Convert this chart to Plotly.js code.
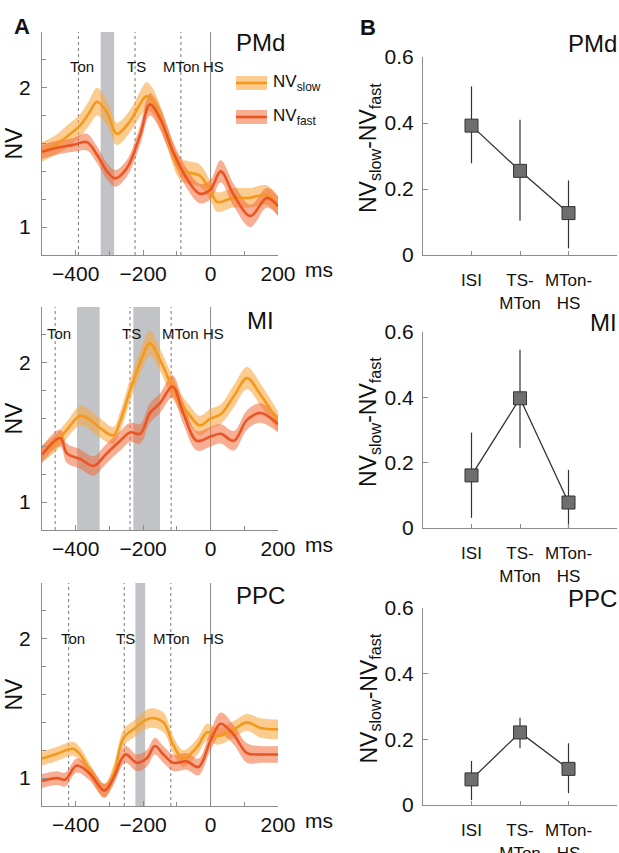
<!DOCTYPE html>
<html>
<head>
<meta charset="utf-8">
<script src="https://cdn.plot.ly/plotly-3.0.1.min.js"></script>
<style>
  html, body { margin: 0; padding: 0; background: #fff; }
  #plot { width: 619px; height: 853px; }
</style>
</head>
<body>
<div id="plot"></div>
<script>
// ---- Panel A : NV over time (ms, aligned to HS) ----
const pmdSlowT = [-500, -460, -426, -387, -360, -337, -307, -278, -239, -210, -190, -170, -130, -91, -61, -32, 0, 20, 67, 116, 166, 200];
const pmdSlow = [1.54, 1.59, 1.65, 1.73, 1.82, 1.90, 1.82, 1.67, 1.76, 1.88, 1.94, 1.90, 1.66, 1.42, 1.39, 1.37, 1.26, 1.18, 1.21, 1.21, 1.23, 1.15];
const pmdSlowSem = [0.07, 0.07, 0.08, 0.08, 0.09, 0.10, 0.09, 0.08, 0.08, 0.09, 0.10, 0.09, 0.08, 0.08, 0.08, 0.08, 0.07, 0.07, 0.07, 0.07, 0.07, 0.07];
const pmdFastT = [-500, -456, -407, -367, -337, -307, -283, -249, -209, -180, -150, -111, -71, -32, 0, 30, 69, 118, 167, 200];
const pmdFast = [1.54, 1.57, 1.59, 1.61, 1.52, 1.40, 1.35, 1.42, 1.66, 1.88, 1.78, 1.54, 1.35, 1.24, 1.27, 1.40, 1.23, 1.08, 1.21, 1.15];
const pmdFastSem = [0.05, 0.05, 0.05, 0.06, 0.06, 0.06, 0.06, 0.06, 0.07, 0.08, 0.08, 0.07, 0.07, 0.07, 0.07, 0.08, 0.08, 0.08, 0.07, 0.07];

const miSlowT = [-500, -461, -426, -387, -357, -327, -288, -268, -239, -209, -180, -150, -120, -91, -61, -32, 0, 30, 69, 108, 148, 200];
const miSlow = [1.35, 1.42, 1.52, 1.62, 1.59, 1.53, 1.48, 1.58, 1.80, 2.00, 2.14, 2.02, 1.86, 1.72, 1.62, 1.55, 1.60, 1.63, 1.76, 1.89, 1.77, 1.58];
const miSlowSem = [0.06, 0.06, 0.06, 0.07, 0.07, 0.07, 0.06, 0.07, 0.08, 0.08, 0.09, 0.08, 0.08, 0.07, 0.07, 0.07, 0.07, 0.07, 0.08, 0.08, 0.08, 0.07];
const miFastT = [-500, -446, -426, -387, -347, -308, -268, -239, -209, -180, -150, -113, -81, -41, 0, 30, 69, 108, 148, 200];
const miFast = [1.34, 1.46, 1.35, 1.31, 1.26, 1.35, 1.44, 1.50, 1.49, 1.64, 1.71, 1.83, 1.64, 1.44, 1.47, 1.49, 1.44, 1.59, 1.64, 1.56];
const miFastSem = [0.06, 0.06, 0.07, 0.07, 0.07, 0.07, 0.07, 0.07, 0.07, 0.07, 0.07, 0.08, 0.08, 0.07, 0.07, 0.07, 0.07, 0.07, 0.07, 0.06];

const ppcSlowT = [-500, -461, -407, -387, -357, -315, -288, -258, -229, -180, -140, -111, -81, -41, -10, 20, 69, 108, 148, 200];
const ppcSlow = [1.14, 1.17, 1.21, 1.17, 1.05, 0.91, 1.03, 1.29, 1.35, 1.43, 1.40, 1.24, 1.14, 1.22, 1.33, 1.30, 1.35, 1.40, 1.36, 1.35];
const ppcSlowSem = [0.05, 0.05, 0.05, 0.05, 0.05, 0.05, 0.06, 0.06, 0.06, 0.07, 0.07, 0.06, 0.06, 0.06, 0.06, 0.06, 0.06, 0.06, 0.07, 0.07];
const ppcFastT = [-500, -456, -431, -397, -357, -315, -288, -253, -219, -190, -165, -140, -111, -71, -36, 0, 30, 69, 108, 148, 200];
const ppcFast = [0.98, 1.00, 0.99, 1.09, 1.03, 0.91, 1.00, 1.17, 1.11, 1.14, 1.23, 1.17, 1.11, 1.12, 1.08, 1.27, 1.39, 1.31, 1.18, 1.17, 1.17];
const ppcFastSem = [0.05, 0.05, 0.05, 0.05, 0.05, 0.05, 0.05, 0.06, 0.06, 0.06, 0.06, 0.06, 0.06, 0.06, 0.06, 0.07, 0.08, 0.07, 0.07, 0.06, 0.06];

// event markers: [Ton, TS, MTon, HS]
const eventNames = ['Ton', 'TS', 'MTon', 'HS'];
const pmdEvents = [-392, -224, -88, 0];
const miEvents = [-461, -239, -117, 0];
const ppcEvents = [-421, -256, -118, 0];
// label x centres and label height (NV units)
const pmdLabelX = [-382, -219, -86, 10];
const miLabelX = [-451, -236, -90, 10];
const ppcLabelX = [-408, -252, -115, 9];
const labelY = [2.15, 2.21, 2.0];
// gray windows [start, end]
const pmdWindows = [[-326, -286]];
const miWindows = [[-396, -329], [-229, -150]];
const ppcWindows = [[-223, -194]];

// ---- Panel B : NVslow - NVfast per epoch ----
const epochs = ['ISI', 'TS-<br>MTon', 'MTon-<br>HS'];
const epochPos = [1, 2, 3];
const diffTicks = [0, 0.2, 0.4, 0.6];
const diffTickText = ['0', '0.2', '0.4', '0.6'];
const pmdDiff = [0.392, 0.255, 0.127];
const pmdHi = [0.511, 0.410, 0.226];
const pmdLo = [0.278, 0.104, 0.020];
const miDiff = [0.161, 0.397, 0.078];
const miHi = [0.292, 0.546, 0.178];
const miLo = [0.031, 0.246, 0.000];
const ppcDiff = [0.078, 0.221, 0.110];
const ppcHi = [0.134, 0.266, 0.188];
const ppcLo = [0.015, 0.173, 0.036];

const regions = ['PMd', 'MI', 'PPC'];

const W = 619, H = 853;
const FONT = 'Liberation Sans, Arial, sans-serif';
const AXIS_GRAY = '#8c8c8c';
const SLOW_LINE = '#f39a1c', SLOW_BAND = 'rgba(249,168,70,0.6)';
const FAST_LINE = '#ea5524', FAST_BAND = 'rgba(240,108,58,0.55)';

const px = v => v / W;
const py = v => 1 - v / H;

// panel pixel boxes (top, bottom)
const aBoxes = [[32, 255], [307, 530], [583, 806]];
const bBoxes = [[57, 255], [332, 528], [608, 805]];

const traces = [];
const shapes = [];
const annotations = [];
const layout = {
    width: W, height: H,
    margin: { l: 0, r: 0, t: 0, b: 0 },
    paper_bgcolor: '#fff', plot_bgcolor: 'rgba(0,0,0,0)',
    showlegend: false,
    font: { family: FONT, color: '#111' }
};

function bandTraces(t, mean, sem, band, xa, ya) {
    const lo = mean.map((m, i) => m - sem[i]);
    const hi = mean.map((m, i) => m + sem[i]);
    traces.push({ x: t, y: lo, xaxis: xa, yaxis: ya, mode: 'lines', line: { width: 0, shape: 'spline', smoothing: 1 }, hoverinfo: 'skip' });
    traces.push({ x: t, y: hi, xaxis: xa, yaxis: ya, mode: 'lines', fill: 'tonexty', fillcolor: band, line: { width: 0, shape: 'spline', smoothing: 1 }, hoverinfo: 'skip' });
}

const aData = [
    [pmdSlowT, pmdSlow, pmdSlowSem, pmdFastT, pmdFast, pmdFastSem, pmdEvents, pmdLabelX, pmdWindows],
    [miSlowT, miSlow, miSlowSem, miFastT, miFast, miFastSem, miEvents, miLabelX, miWindows],
    [ppcSlowT, ppcSlow, ppcSlowSem, ppcFastT, ppcFast, ppcFastSem, ppcEvents, ppcLabelX, ppcWindows]
];

aData.forEach((d, k) => {
    const n = k + 1;
    const xa = 'x' + (n === 1 ? '' : n), ya = 'y' + (n === 1 ? '' : n);
    const [sT, s, sSem, fT, f, fSem, ev, labX, wins] = d;
    bandTraces(sT, s, sSem, SLOW_BAND, xa, ya);
    bandTraces(fT, f, fSem, FAST_BAND, xa, ya);
    traces.push({ x: sT, y: s, xaxis: xa, yaxis: ya, mode: 'lines', line: { color: SLOW_LINE, width: 2.6, shape: 'spline', smoothing: 1 } });
    traces.push({ x: fT, y: f, xaxis: xa, yaxis: ya, mode: 'lines', line: { color: FAST_LINE, width: 2.6, shape: 'spline', smoothing: 1 } });

    const box = aBoxes[k];
    layout['xaxis' + (n === 1 ? '' : n)] = {
        domain: [px(42), px(278)], anchor: ya, range: [-500, 200],
        tickmode: 'linear', tick0: -400, dtick: 200,
        ticks: 'inside', ticklen: 5, tickcolor: AXIS_GRAY,
        minor: { dtick: 100, tick0: -500, ticks: 'inside', ticklen: 4, tickcolor: AXIS_GRAY },
        showline: true, linecolor: AXIS_GRAY, linewidth: 1,
        showgrid: false, zeroline: false,
        tickfont: { size: 21, family: FONT, color: '#111' }, ticklabelstandoff: 0
    };
    layout['yaxis' + (n === 1 ? '' : n)] = {
        domain: [py(box[1]), py(box[0])], anchor: xa, range: [0.8, 2.4],
        tickmode: 'linear', tick0: 1, dtick: 1,
        ticks: 'inside', ticklen: 5, tickcolor: AXIS_GRAY,
        minor: { dtick: 0.2, tick0: 1, ticks: 'inside', ticklen: 4, tickcolor: AXIS_GRAY },
        showline: true, linecolor: AXIS_GRAY, linewidth: 1,
        showgrid: false, zeroline: false,
        tickfont: { size: 21, family: FONT, color: '#111' }, ticklabelstandoff: 6
    };

    wins.forEach(w => shapes.push({
        type: 'rect', xref: xa, yref: ya + ' domain', x0: w[0], x1: w[1], y0: 0, y1: 1,
        fillcolor: '#c1c3c6', line: { width: 0 }, layer: 'below'
    }));
    ev.forEach((e, i) => shapes.push({
        type: 'line', xref: xa, yref: ya + ' domain', x0: e, x1: e, y0: 0, y1: 1,
        line: { color: i === 3 ? '#8a8a8a' : '#777', width: 1, dash: i === 3 ? 'solid' : 'dot' }, layer: 'below'
    }));
    eventNames.forEach((nm, i) => annotations.push({
        xref: xa, yref: ya, x: labX[i], y: labelY[k], text: nm, showarrow: false,
        font: { size: 15, family: FONT, color: '#111' }, xanchor: 'center', yanchor: 'middle'
    }));

    // region title and axis titles
    annotations.push({ xref: 'paper', yref: 'paper', x: px(260), y: py([43, 320, 595][k]), text: regions[k], showarrow: false, font: { size: 24, family: FONT, color: '#111' }, xanchor: 'center', yanchor: 'middle' });
    annotations.push({ xref: 'paper', yref: 'paper', x: px(13), y: py((box[0] + box[1]) / 2), text: 'NV', textangle: -90, showarrow: false, font: { size: 23, family: FONT, color: '#111' }, xanchor: 'center', yanchor: 'middle' });
    annotations.push({ xref: 'paper', yref: 'paper', x: px(303), y: py(box[1] + 14), text: 'ms', showarrow: false, font: { size: 21, family: FONT, color: '#111' }, xanchor: 'left', yanchor: 'middle' });
});

// legend in PMd panel (drawn as decoration)
[[83, SLOW_BAND, SLOW_LINE, 'NV<sub>slow</sub>'], [117, FAST_BAND, FAST_LINE, 'NV<sub>fast</sub>']].forEach(([yy, band, line, txt]) => {
    shapes.push({ type: 'rect', xref: 'paper', yref: 'paper', x0: px(236), x1: px(267), y0: py(yy + 7), y1: py(yy - 7), fillcolor: band, line: { width: 0 } });
    shapes.push({ type: 'line', xref: 'paper', yref: 'paper', x0: px(236), x1: px(267), y0: py(yy), y1: py(yy), line: { color: line, width: 2.6 } });
    annotations.push({ xref: 'paper', yref: 'paper', x: px(271), y: py(yy), text: txt, showarrow: false, font: { size: 17, family: FONT, color: '#111' }, xanchor: 'left', yanchor: 'middle' });
});

// ---- Panel B ----
const bData = [[pmdDiff, pmdHi, pmdLo], [miDiff, miHi, miLo], [ppcDiff, ppcHi, ppcLo]];
bData.forEach((d, k) => {
    const n = k + 4;
    const xa = 'x' + n, ya = 'y' + n;
    const [m, hi, lo] = d;
    traces.push({
        x: epochPos, y: m, xaxis: xa, yaxis: ya, mode: 'lines+markers',
        line: { color: '#333', width: 1.3 },
        marker: { symbol: 'square', size: 13, color: '#6e6e6e', line: { color: '#333', width: 1 } },
        error_y: { type: 'data', symmetric: false, array: hi.map((h, i) => h - m[i]), arrayminus: lo.map((l, i) => m[i] - l), color: '#333', thickness: 1.2, width: 0 },
        cliponaxis: false
    });
    const box = bBoxes[k];
    layout['xaxis' + n] = {
        domain: [px(423), px(617)], anchor: ya, range: [0, 4],
        tickmode: 'array', tickvals: epochPos, ticktext: epochs,
        ticks: 'inside', ticklen: 4, tickcolor: AXIS_GRAY,
        showline: true, linecolor: AXIS_GRAY, linewidth: 1,
        showgrid: false, zeroline: false,
        tickfont: { size: 17, family: FONT, color: '#111' }, ticklabelstandoff: 10
    };
    layout['yaxis' + n] = {
        domain: [py(box[1]), py(box[0])], anchor: xa, range: [0, 0.6],
        tickmode: 'array', tickvals: diffTicks, ticktext: diffTickText,
        ticks: 'inside', ticklen: 5, tickcolor: AXIS_GRAY,
        showline: true, linecolor: AXIS_GRAY, linewidth: 1,
        showgrid: false, zeroline: false,
        tickfont: { size: 21, family: FONT, color: '#111' }, ticklabelstandoff: 4
    };
    annotations.push({ xref: 'paper', yref: 'paper', x: 1, y: py([44, 322, 598][k]), text: regions[k], showarrow: false, font: { size: 24, family: FONT, color: '#111' }, xanchor: 'right', yanchor: 'middle' });
    annotations.push({ xref: 'paper', yref: 'paper', x: px(370), y: py((box[0] + box[1]) / 2 - 8), text: 'NV<sub>slow</sub>-NV<sub>fast</sub>', textangle: -90, showarrow: false, font: { size: 23, family: FONT, color: '#111' }, xanchor: 'center', yanchor: 'middle' });
});

// panel letters
annotations.push({ xref: 'paper', yref: 'paper', x: px(12), y: py(12), text: '<b>A</b>', showarrow: false, font: { size: 22, family: FONT, color: '#111' } });
annotations.push({ xref: 'paper', yref: 'paper', x: px(368), y: py(13), text: '<b>B</b>', showarrow: false, font: { size: 22, family: FONT, color: '#111' } });

layout.shapes = shapes;
layout.annotations = annotations;

Plotly.newPlot('plot', traces, layout, { displayModeBar: false, staticPlot: true });
</script>
</body>
</html>
